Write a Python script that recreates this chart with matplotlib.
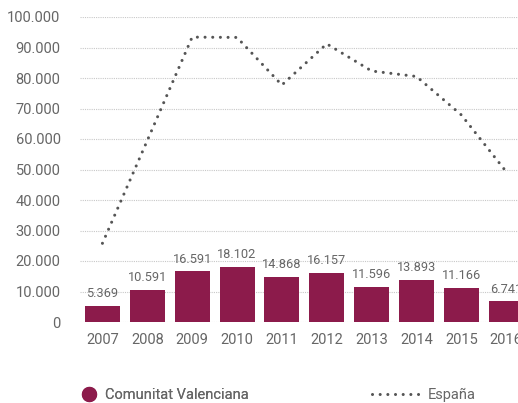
import matplotlib.pyplot as plt
from matplotlib.lines import Line2D

plt.rcParams['font.family'] = ['Roboto', 'DejaVu Sans']

YEARS = ["2007", "2008", "2009", "2010", "2011", "2012", "2013", "2014", "2015", "2016"]
VALENCIA = [5369, 10591, 16591, 18102, 14868, 16157, 11596, 13893, 11166, 6741]
ESPANA = [25800, 59500, 93400, 93300, 77700, 91200, 82300, 80500, 67900, 49300]
YTICKS = [0, 10000, 20000, 30000, 40000, 50000, 60000, 70000, 80000, 90000, 100000]

BAR_COLOR = "#8c1b4b"
LINE_COLOR = "#555555"
TEXT_COLOR = "#666666"


def fmt(v):
    return f"{v:,}".replace(",", ".")


fig = plt.figure(figsize=(5.18, 4.03), dpi=100)
ax = fig.add_axes([80 / 518, 1 - 322 / 403, 448.6 / 518, 305 / 403])

x = list(range(len(YEARS)))
bars = ax.bar(x, VALENCIA, width=0.78, color=BAR_COLOR, zorder=2)
for xi, v in zip(x, VALENCIA):
    ax.annotate(fmt(v), (xi, v), xytext=(0, 4), textcoords="offset points",
                ha="center", va="bottom", fontsize=9.2, color=TEXT_COLOR)

ax.plot(x, ESPANA, color=LINE_COLOR, lw=2.2, linestyle=(0, (0.01, 2.5)),
        dash_capstyle="round", zorder=3)

ax.set_xlim(-0.5, len(YEARS) - 0.5)
ax.set_ylim(0, 100000)
ax.set_xticks(x)
ax.set_xticklabels(YEARS)
ax.set_yticks(YTICKS)
ax.set_yticklabels([fmt(t) for t in YTICKS])
ax.tick_params(length=0, labelsize=10.5, labelcolor=TEXT_COLOR)
ax.tick_params(axis="y", pad=14)
ax.tick_params(axis="x", pad=8)
ax.grid(axis="y", color="#c8c8c8", linestyle=(0, (1, 1)), lw=0.8, zorder=0)
for s in ax.spines.values():
    s.set_visible(False)

h1 = Line2D([], [], marker="o", color="none", markerfacecolor=BAR_COLOR,
            markeredgecolor=BAR_COLOR, markersize=10)
h2 = Line2D([], [], color=LINE_COLOR, lw=2.2, linestyle=(0, (0.01, 2.5)),
            dash_capstyle="round")
leg1 = fig.legend([h1], ["Comunitat Valenciana"], loc="center left",
                  bbox_to_anchor=(80 / 518, 1 - 395 / 403), frameon=False,
                  fontsize=10.5, labelcolor=TEXT_COLOR, handlelength=1.2,
                  handletextpad=0.5, borderaxespad=0, borderpad=0)
fig.add_artist(leg1)
fig.legend([h2], ["España"], loc="center left",
           bbox_to_anchor=(372 / 518, 1 - 395 / 403), frameon=False,
           fontsize=10.5, labelcolor=TEXT_COLOR, handlelength=3.2,
           handletextpad=0.6, borderaxespad=0, borderpad=0)

fig.savefig("out.png", dpi=100)
plt.close(fig)
